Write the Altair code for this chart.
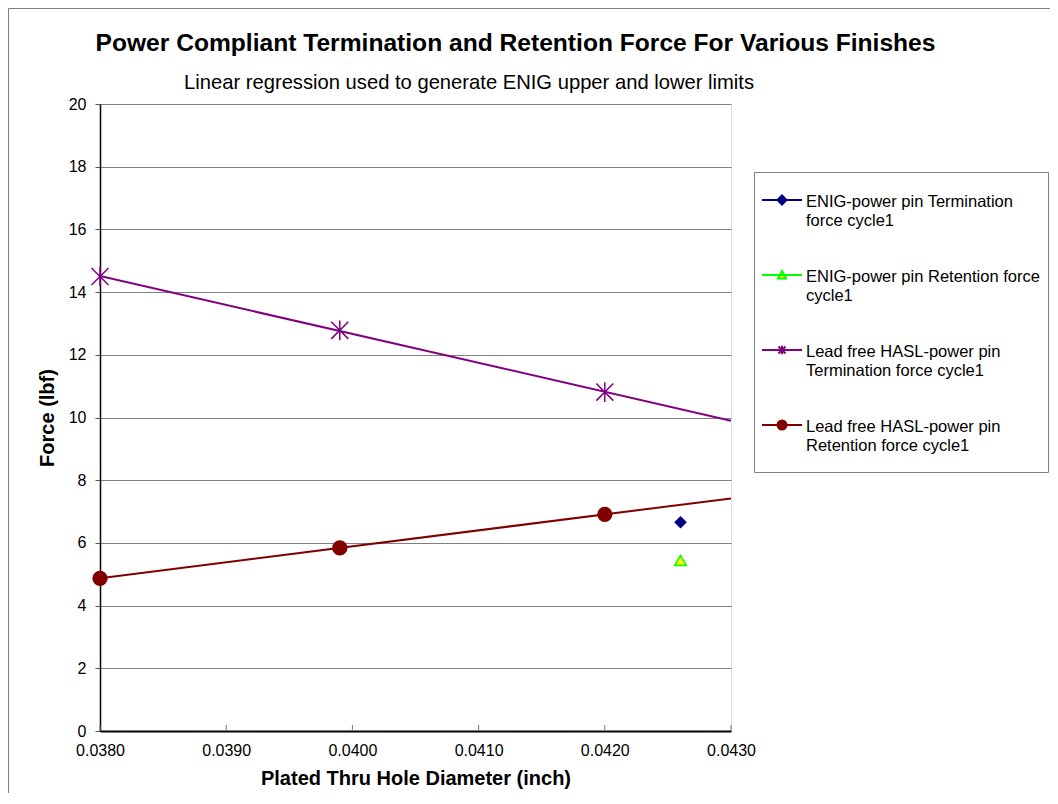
import altair as alt
import pandas as pd

# ---------------- data ----------------
x_ticks = [0.0380, 0.0390, 0.0400, 0.0410, 0.0420, 0.0430]
y_ticks = [0, 2, 4, 6, 8, 10, 12, 14, 16, 18, 20]

hasl_x = [0.0380, 0.0399, 0.0420]
hasl_term = [14.50, 12.78, 10.81]
hasl_ret = [4.87, 5.84, 6.91]

enig_x = [0.0426]
enig_term = [6.66]
enig_ret = [5.44]

series_names = [
    "ENIG-power pin Termination force  cycle1",
    "ENIG-power pin Retention force cycle1",
    "Lead free HASL-power pin Termination force  cycle1",
    "Lead free HASL-power pin Retention force  cycle1",
]
legend_lines = [
    ["ENIG-power pin Termination", "force  cycle1"],
    ["ENIG-power pin Retention force", "cycle1"],
    ["Lead free HASL-power pin", "Termination force  cycle1"],
    ["Lead free HASL-power pin", "Retention force  cycle1"],
]
line_colors = ["#000080", "#00FF00", "#800080", "#800000"]
fill_colors = ["#000080", "#FFFF00", "transparent", "#800000"]

title_text = "Power Compliant Termination and  Retention Force For Various Finishes"
subtitle_text = "Linear regression used to generate ENIG upper and lower limits"
x_title = "Plated Thru Hole Diameter (inch)"
y_title = "Force (lbf)"

# ---------------- tables ----------------
rows = []
for x, y in zip(hasl_x, hasl_term):
    rows.append({"x": x, "y": y, "series": series_names[2]})
for x, y in zip(hasl_x, hasl_ret):
    rows.append({"x": x, "y": y, "series": series_names[3]})
for x, y in zip(enig_x, enig_term):
    rows.append({"x": x, "y": y, "series": series_names[0]})
for x, y in zip(enig_x, enig_ret):
    rows.append({"x": x, "y": y, "series": series_names[1]})
df = pd.DataFrame(rows)
tick_df = pd.DataFrame({"x": x_ticks})

W, H = 631, 627
FONT = "Liberation Sans"

# ---------------- legend symbol paths (line + marker) ----------------
S = 42.0                 # symbol size box in px
R = S / 2.0
CX = (S + 2) / 2.0       # symbol centre from content left (px)
SHIFT = -2.0             # px, align with first label line
def u(v):
    return round(v / R, 4)

ly = u(SHIFT)
lx0, lx1 = u(0 - CX), u(40 - CX)
mx = u(20 - CX)
line_part = f"M{lx0},{ly}L{lx1},{ly}"
# zero-length sub-path (draws nothing) that extends the entry's bounds downward
spacer = f"M{mx},{u(33)}L{mx},{u(33)}"
d = u(4.5)
diamond = f"M{round(mx - d,4)},{ly}L{mx},{round(ly - d,4)}L{round(mx + d,4)},{ly}L{mx},{round(ly + d,4)}Z"
t = u(4)
triangle = (f"M{round(mx - t,4)},{round(ly + t*0.85,4)}L{round(mx + t,4)},{round(ly + t*0.85,4)}"
            f"L{mx},{round(ly - t,4)}Z")
a = u(3.5)
asterisk = (f"M{round(mx - a,4)},{round(ly - a,4)}L{round(mx + a,4)},{round(ly + a,4)}"
            f"M{round(mx - a,4)},{round(ly + a,4)}L{round(mx + a,4)},{round(ly - a,4)}"
            f"M{mx},{round(ly - a*1.2,4)}L{mx},{round(ly + a*1.2,4)}")
c = u(4.5)
circle = (f"M{round(mx - c,4)},{ly}A{c},{c} 0 1,0 {round(mx + c,4)},{ly}"
          f"A{c},{c} 0 1,0 {round(mx - c,4)},{ly}Z")
legend_shapes = [line_part + diamond + spacer, line_part + triangle + spacer,
                 line_part + asterisk + spacer, line_part + circle + spacer]

label_expr = ""
for name, lines in zip(series_names, legend_lines):
    arr = "[" + ",".join("'" + l + "'" for l in lines) + "]"
    label_expr += f"datum.label == '{name}' ? {arr} : "
label_expr += "datum.label"

legend = alt.Legend(
    title=None, orient="none", legendX=654, legendY=68,
    strokeColor="#808080", padding=8, fillColor="white",
    labelFontSize=16.5, labelFont=FONT, labelColor="black",
    labelLimit=400, labelExpr=label_expr, labelOffset=0,
    symbolSize=S * S, symbolStrokeWidth=2, rowPadding=16,
)

xscale = alt.Scale(domain=[0.038, 0.043], nice=False, zero=False)
yscale = alt.Scale(domain=[0, 20], nice=False, zero=True)

xaxis = alt.Axis(values=x_ticks, format=".4f", ticks=False, grid=False,
                 labelFontSize=16, labelFont=FONT, labelColor="black", labelPadding=11,
                 labelFlush=False, domainColor="black", domainWidth=2,
                 title=x_title, titleFontSize=20, titleFont=FONT, titleFontWeight="bold",
                 titleColor="black", titleY=53, titleBaseline="alphabetic")
yaxis = alt.Axis(values=y_ticks, grid=True, gridColor="#808080", gridWidth=1,
                 ticks=True, tickSize=5, tickColor="#555555", tickWidth=1,
                 labelFontSize=16, labelFont=FONT, labelColor="black", labelPadding=9,
                 domainColor="black", domainWidth=1.5,
                 title=y_title, titleFontSize=20, titleFont=FONT, titleFontWeight="bold",
                 titleColor="black", titleX=-47, titleBaseline="alphabetic", titleAngle=-90)

base = alt.Chart(df)

# legend carrier (no data rows; explicit domains build the legend)
legend_layer = alt.Chart(pd.DataFrame({"series": pd.Series([], dtype=str),
                                       "x": pd.Series([], dtype=float),
                                       "y": pd.Series([], dtype=float)})).mark_point(
    size=S * S, strokeWidth=2, opacity=1
).encode(
    x=alt.X("x:Q", scale=xscale, axis=xaxis),
    y=alt.Y("y:Q", scale=yscale, axis=yaxis),
    shape=alt.Shape("series:N", scale=alt.Scale(domain=series_names, range=legend_shapes), legend=legend),
    fill=alt.Fill("series:N", scale=alt.Scale(domain=series_names, range=fill_colors), legend=legend),
    stroke=alt.Stroke("series:N", scale=alt.Scale(domain=series_names, range=line_colors), legend=legend),
)

grid_ticks = alt.Chart(tick_df).mark_rule(color="#777777", strokeWidth=1).encode(
    x="x:Q", y=alt.value(H - 6), y2=alt.value(H)
)

def trend(name, color):
    return base.transform_filter(alt.datum.series == name).transform_regression(
        "x", "y", extent=[0.038, 0.043]
    ).mark_line(color=color, strokeWidth=2, clip=True).encode(x="x:Q", y="y:Q")

trend_term = trend(series_names[2], line_colors[2])
trend_ret = trend(series_names[3], line_colors[3])

pts_hasl_term = base.transform_filter(alt.datum.series == series_names[2]).mark_point(
    shape="M-1,-1L1,1M-1,1L1,-1M0,-1.15L0,1.15", size=290, filled=False,
    stroke=line_colors[2], strokeWidth=1.5, opacity=1
).encode(x="x:Q", y="y:Q")

pts_hasl_ret = base.transform_filter(alt.datum.series == series_names[3]).mark_point(
    shape="circle", size=235, filled=True, color=line_colors[3], opacity=1
).encode(x="x:Q", y="y:Q")

pts_enig_term = base.transform_filter(alt.datum.series == series_names[0]).mark_point(
    shape="diamond", size=160, filled=True, color=line_colors[0], opacity=1
).encode(x="x:Q", y="y:Q")

pts_enig_ret = base.transform_filter(alt.datum.series == series_names[1]).mark_point(
    shape="triangle-up", size=135, fill=fill_colors[1], stroke=line_colors[1],
    strokeWidth=1.5, opacity=1
).encode(x="x:Q", y="y:Q")

title = alt.Chart(pd.DataFrame({"t": [title_text]})).mark_text(
    align="center", baseline="alphabetic", fontSize=24.6, fontWeight="bold", font=FONT, color="black"
).encode(text="t:N", x=alt.value(415.5), y=alt.value(-53))

subtitle = alt.Chart(pd.DataFrame({"t": [subtitle_text]})).mark_text(
    align="left", baseline="alphabetic", fontSize=20.2, font=FONT, color="black"
).encode(text="t:N", x=alt.value(84), y=alt.value(-15))

frame = alt.Chart(pd.DataFrame({"k": [0]})).mark_rect(
    fill="transparent", stroke="#808080", strokeWidth=1
).encode(x=alt.value(-91.5), x2=alt.value(W + 340), y=alt.value(-95.5), y2=alt.value(H + 100))

chart = alt.layer(
    legend_layer, grid_ticks, trend_term, trend_ret,
    pts_hasl_term, pts_hasl_ret, pts_enig_term, pts_enig_ret, title, subtitle, frame
).properties(
    width=W, height=H,
    padding={"left": 92, "top": 96, "right": 319, "bottom": 62},
    autosize=alt.AutoSizeParams(type="none"),
).configure_view(
    stroke="#808080", strokeWidth=2
).configure(background="white")

chart.save("out.html", embed_options={"renderer": "svg", "actions": False})
